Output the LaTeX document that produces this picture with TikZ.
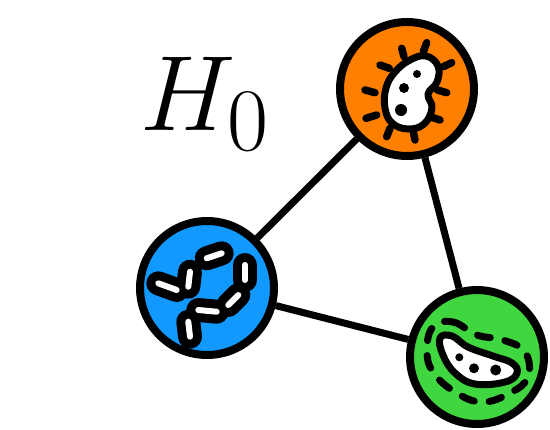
\documentclass[tikz,border=0pt]{standalone}
\usepackage{amsmath}
\usepackage{tikz}
\usetikzlibrary{backgrounds}
\definecolor{bugOrange}{RGB}{255,128,0}
\definecolor{bugBlue}{RGB}{17,153,255}
\definecolor{bugGreen}{RGB}{64,214,64}
\tikzset{
  cell/.style={circle, draw=black, line width=0.16cm, minimum size=2.68cm, inner sep=0pt},
  link/.style={line width=0.14cm, draw=black},
  outline/.style={line width=0.14cm, draw=black, line join=round},
  spike/.style={line width=0.15cm, line cap=round},
  rodbody/.style={line width=0.48cm, line cap=round},
  rodshine/.style={line width=0.12cm, line cap=round, draw=white}
}

\begin{document}
\begin{tikzpicture}[x=0.02cm, y=-0.02cm]
\useasboundingbox (0,0) rectangle (550,429);

\node[anchor=base west, inner sep=0pt, font=\Huge, scale=2.45] (label) at (140,130) {$H_0$};

\node[cell, fill=bugOrange] (orange) at (407,89) {};
\node[cell, fill=bugBlue] (blue) at (207,288) {};
\node[cell, fill=bugGreen] (green) at (477,357) {};

\begin{scope}[on background layer]
\draw[link] (orange) -- (blue);
\draw[link] (orange) -- (green);
\draw[link] (blue) -- (green);
\end{scope}

% spiky coccus
\foreach \a/\b/\c/\d in {401.7/48.3/404/56.7, 426.7/42.7/423.3/51.7, 380/65/389.3/68.3,
  451.7/62.7/443.3/66.7, 365/90/375/92.7, 446.7/92.7/437.3/90, 366/118.3/376.7/115,
  440/120/430/116.7, 386.7/136.7/390/128.3, 415/140/413.3/131.7}
  \draw[spike] (\a,\b) -- (\c,\d);
\draw[outline, fill=white] plot[smooth cycle, tension=0.7] coordinates {
  (426,56) (438,66) (437,82) (428,94) (432,108) (424,124) (408,129)
  (392,123) (385,108) (386,88) (395,72) (410,60)};
\fill (417,74) circle[radius=4];
\fill (404,88) circle[radius=5];
\fill (401,110) circle[radius=6];

% chain of rods
\foreach \a/\b/\c/\d in {158.3/283.3/176.7/290, 190/271.7/188.3/286.7, 206.7/258.3/221.7/253.3,
  245/265/245/280, 238.3/295/228.3/305, 198.3/310/216.7/311.7, 188.3/321.7/190/336.7}
  \draw[rodbody] (\a,\b) -- (\c,\d);
\foreach \a/\b/\c/\d in {158.3/283.3/176.7/290, 190/271.7/188.3/286.7, 206.7/258.3/221.7/253.3,
  245/265/245/280, 238.3/295/228.3/305, 198.3/310/216.7/311.7, 188.3/321.7/190/336.7}
  \draw[rodshine] (\a,\b) -- (\c,\d);

% curved bacillus
\draw[line width=0.14cm, line cap=round, dash pattern=on 0.26cm off 0.3cm]
  plot[smooth cycle, tension=0.7] coordinates {
  (433,327) (453,322) (477,335) (503,340) (525,352) (528,377) (510,393)
  (482,402) (455,392) (433,372) (427,350)};
\draw[outline, fill=white] plot[smooth cycle, tension=0.7] coordinates {
  (440,338) (452,336) (468,347) (493,356) (512,363) (517,373) (505,382)
  (475,384) (455,373) (443,355)};
\fill (459.3,357.3) circle[radius=4];
\fill (474,368.3) circle[radius=5];
\fill (495.7,370) circle[radius=5.5];
\end{tikzpicture}
\end{document}
